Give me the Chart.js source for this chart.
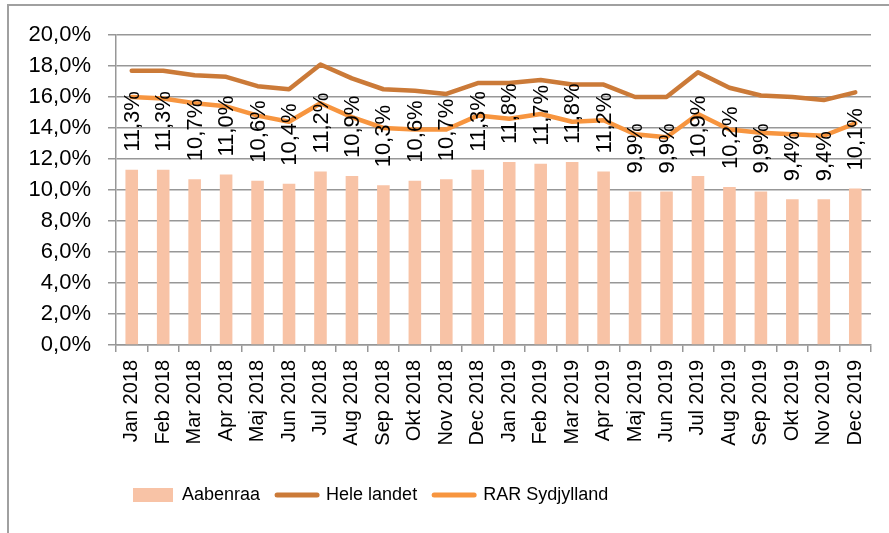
<!DOCTYPE html>
<html>
<head>
<meta charset="utf-8">
<script src="https://cdn.jsdelivr.net/npm/chart.js@4"></script>
<style>
  html, body { margin: 0; padding: 0; background: #fff; }
  #wrap { width: 889px; height: 533px; }
</style>
</head>
<body>
<div id="wrap"><canvas id="ledighed" width="889" height="533"></canvas></div>
<script>
// måneder
const maaneder = [
  'Jan 2018', 'Feb 2018', 'Mar 2018', 'Apr 2018', 'Maj 2018', 'Jun 2018',
  'Jul 2018', 'Aug 2018', 'Sep 2018', 'Okt 2018', 'Nov 2018', 'Dec 2018',
  'Jan 2019', 'Feb 2019', 'Mar 2019', 'Apr 2019', 'Maj 2019', 'Jun 2019',
  'Jul 2019', 'Aug 2019', 'Sep 2019', 'Okt 2019', 'Nov 2019', 'Dec 2019'
];

// ledighed i procent
const aabenraa = [11.3, 11.3, 10.7, 11.0, 10.6, 10.4, 11.2, 10.9, 10.3, 10.6, 10.7, 11.3,
                  11.8, 11.7, 11.8, 11.2, 9.9, 9.9, 10.9, 10.2, 9.9, 9.4, 9.4, 10.1];
const heleLandet = [17.7, 17.7, 17.4, 17.3, 16.7, 16.5, 18.1, 17.2, 16.5, 16.4, 16.2, 16.9,
                    16.9, 17.1, 16.8, 16.8, 16.0, 16.0, 17.6, 16.6, 16.1, 16.0, 15.8, 16.3];
const rarSydjylland = [16.0, 15.9, 15.6, 15.4, 14.8, 14.4, 15.6, 14.7, 14.0, 13.9, 13.9, 14.8,
                       14.6, 14.9, 14.4, 14.5, 13.6, 13.4, 14.9, 13.9, 13.7, 13.6, 13.5, 14.3];

const yTicks = [0, 2, 4, 6, 8, 10, 12, 14, 16, 18, 20];

const FARVE_BAR = '#F8C3A6';
const FARVE_HELE = '#CB7A38';
const FARVE_RAR = '#F7953F';
const GRAA = '#979797';
const FONT = "'Liberation Sans', Arial, sans-serif";

const pct = v => v.toFixed(1).replace('.', ',') + '%';

// ramme om diagrammet (top og venstre kant)
const rammePlugin = {
  id: 'ramme',
  beforeDraw(chart) {
    const ctx = chart.ctx;
    ctx.save();
    ctx.strokeStyle = '#a0a0a0';
    ctx.lineWidth = 2;
    ctx.beginPath();
    ctx.moveTo(7, 5);
    ctx.lineTo(889, 5);
    ctx.moveTo(8, 4);
    ctx.lineTo(8, 533);
    ctx.stroke();
    ctx.restore();
  }
};

// lodrette dataetiketter over søjlerne
const etiketPlugin = {
  id: 'etiketter',
  afterDatasetsDraw(chart) {
    const ctx = chart.ctx;
    const meta = chart.getDatasetMeta(0);
    ctx.save();
    ctx.fillStyle = '#000';
    ctx.font = '22px ' + FONT;
    ctx.textAlign = 'left';
    ctx.textBaseline = 'middle';
    meta.data.forEach((bar, i) => {
      ctx.save();
      ctx.translate(bar.x + 1, bar.y - 18);
      ctx.rotate(-Math.PI / 2);
      ctx.fillText(pct(aabenraa[i]), 0, 0);
      ctx.restore();
    });
    ctx.restore();
  }
};

const ctx = document.getElementById('ledighed').getContext('2d');
new Chart(ctx, {
  type: 'bar',
  data: {
    labels: maaneder,
    datasets: [
      {
        label: 'Aabenraa',
        data: aabenraa,
        backgroundColor: FARVE_BAR,
        categoryPercentage: 1,
        barPercentage: 0.4,
        order: 2
      },
      {
        type: 'line',
        label: 'Hele landet',
        data: heleLandet,
        borderColor: FARVE_HELE,
        backgroundColor: FARVE_HELE,
        borderWidth: 4.5,
        pointRadius: 0,
        tension: 0,
        borderCapStyle: 'round',
        borderJoinStyle: 'round',
        order: 1
      },
      {
        type: 'line',
        label: 'RAR Sydjylland',
        data: rarSydjylland,
        borderColor: FARVE_RAR,
        backgroundColor: FARVE_RAR,
        borderWidth: 4.5,
        pointRadius: 0,
        tension: 0,
        borderCapStyle: 'round',
        borderJoinStyle: 'round',
        order: 0
      }
    ]
  },
  options: {
    responsive: false,
    animation: false,
    layout: { padding: { top: 35, right: 18, bottom: 19, left: 0 } },
    plugins: {
      tooltip: { enabled: false },
      legend: {
        position: 'bottom',
        align: 'start',
        fullSize: false,
        labels: {
          color: '#000',
          font: { family: FONT, size: 18 },
          padding: 17,
          usePointStyle: true,
          pointStyleWidth: 40,
          boxHeight: 14,
          generateLabels: () => [
            { text: 'Aabenraa', fillStyle: FARVE_BAR, strokeStyle: FARVE_BAR, lineWidth: 0,
              pointStyle: 'rect', datasetIndex: 0, hidden: false },
            { text: 'Hele landet', fillStyle: FARVE_HELE, strokeStyle: FARVE_HELE, lineWidth: 5,
              lineCap: 'round', pointStyle: 'line', datasetIndex: 1, hidden: false },
            { text: 'RAR Sydjylland', fillStyle: FARVE_RAR, strokeStyle: FARVE_RAR, lineWidth: 5,
              lineCap: 'round', pointStyle: 'line', datasetIndex: 2, hidden: false }
          ]
        }
      }
    },
    scales: {
      x: {
        afterFit: scale => { scale.height = 124; },
        grid: {
          display: true,
          drawOnChartArea: false,
          offset: true,
          tickLength: 7,
          color: GRAA,
          lineWidth: 1.5
        },
        border: { color: GRAA, width: 1.5 },
        ticks: {
          color: '#000',
          font: { family: FONT, size: 20 },
          minRotation: 90,
          maxRotation: 90,
          autoSkip: false,
          padding: 8
        }
      },
      y: {
        min: 0,
        max: 20,
        afterFit: scale => { scale.width = 116; },
        afterBuildTicks: scale => { scale.ticks = yTicks.map(v => ({ value: v })); },
        grid: {
          color: GRAA,
          lineWidth: 1.5,
          tickLength: 8
        },
        border: { color: GRAA, width: 1.5 },
        ticks: {
          color: '#000',
          font: { family: FONT, size: 22 },
          padding: 17,
          callback: v => pct(v)
        }
      }
    }
  },
  plugins: [rammePlugin, etiketPlugin]
});
</script>
</body>
</html>
